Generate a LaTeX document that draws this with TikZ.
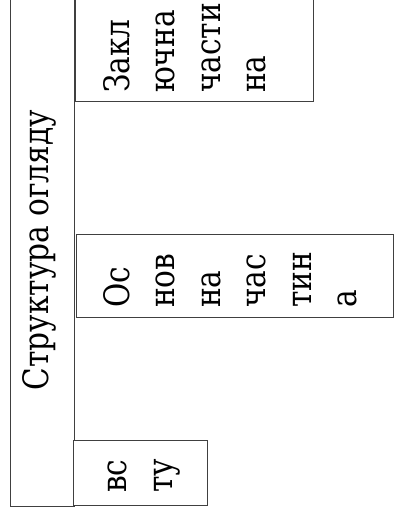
\documentclass[tikz,border=0pt]{standalone}
\usepackage{fontspec}
\setmainfont{DejaVu Serif Condensed}[FakeStretch=0.94]
\begin{document}
\begin{tikzpicture}[x=1pt, y=1pt,
    partbox/.style={draw=black!75, line width=1pt, fill=white},
    rotext/.style={rotate=90, inner sep=0pt, font=\fontsize{35}{45.5}\selectfont, align=left}]
    \useasboundingbox (0,0) rectangle (394,520);
    \clip (0,0) rectangle (394,520);

    % boxes
    \draw[partbox] (10,13) rectangle (74,530);
    \draw[partbox] (75,418) rectangle (313,530);
    \draw[partbox] (76,202) rectangle (393,285);
    \draw[partbox] (73,14) rectangle (207,79);

    % texts
    \node[rotext, anchor=base] (title) at (48,270) {Структура огляду};
    \node[rotext, anchor=north west] (final) at (103,427) {Закл\\ючна\\части\\на};
    \node[rotext, anchor=north west] (main) at (103,212) {Ос\\нов\\на\\час\\тин\\а};
    \node[rotext, anchor=north west] (intro) at (108,27) {вс\\ту};
\end{tikzpicture}
\end{document}
